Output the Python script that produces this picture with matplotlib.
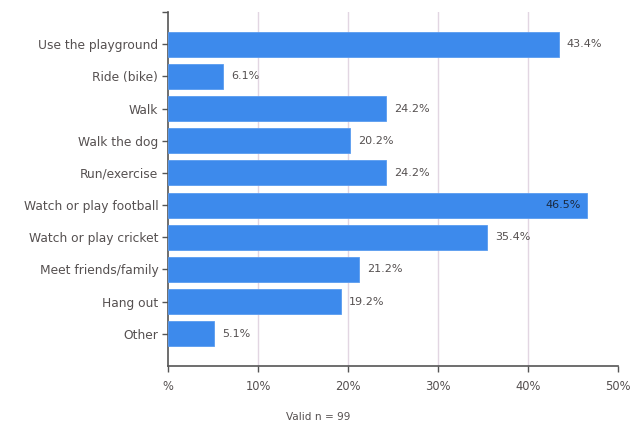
import matplotlib
matplotlib.use("Agg")
import matplotlib.pyplot as plt
from matplotlib.ticker import FixedLocator

categories = ["Use the playground", "Ride (bike)", "Walk", "Walk the dog", "Run/exercise",
              "Watch or play football", "Watch or play cricket", "Meet friends/family",
              "Hang out", "Other"]
values = [43.4, 6.1, 24.2, 20.2, 24.2, 46.5, 35.4, 21.2, 19.2, 5.1]
xticks = [0, 10, 20, 30, 40, 50]
xticklabels = ["%", "10%", "20%", "30%", "40%", "50%"]
footnote = "Valid n = 99"

bar_color = "#3d8aec"
text_color = "#555050"
spine_color = "#555555"

fig = plt.figure(figsize=(6.3, 4.26), dpi=100)
ax = fig.add_axes([168/630, 1-366/426, (618-168)/630, (366-12)/426])

pos = list(range(len(categories)))
ax.barh(pos, values, height=0.78, color=bar_color, edgecolor="#5a9cf0", linewidth=0.6, zorder=3)

for p, v in zip(pos, values):
    if v > 45:
        ax.text(v - 0.6, p, f"{v:.1f}%", va="center", ha="right", fontsize=8, color="#1a2a40", zorder=4)
    else:
        ax.text(v + 0.9, p, f"{v:.1f}%", va="center", ha="left", fontsize=8, color=text_color, zorder=4)

ax.set_xlim(0, 50)
ax.set_ylim(len(categories), -1)
ax.set_xticks(xticks)
ax.set_xticklabels(xticklabels, color=text_color, fontsize=8.3)
ax.set_yticks(pos)
ax.set_yticklabels(categories, color=text_color, fontsize=8.8)
ax.yaxis.set_minor_locator(FixedLocator([-1]))
ax.tick_params(axis="y", which="both", length=4, color=spine_color, width=1, pad=3)
ax.tick_params(axis="x", length=4, color=spine_color, width=1, pad=6)

for xv in xticks[1:-1]:
    ax.axvline(xv, color="#e2d6e2", linewidth=1, zorder=0)
for s in ["top", "right"]:
    ax.spines[s].set_visible(False)
for s in ["left", "bottom"]:
    ax.spines[s].set_color(spine_color)
    ax.spines[s].set_linewidth(1.2)

fig.text(318/630, 1-417/426, footnote, ha="center", va="center", fontsize=7.6, color=text_color)

fig.savefig("out.png", dpi=100)
